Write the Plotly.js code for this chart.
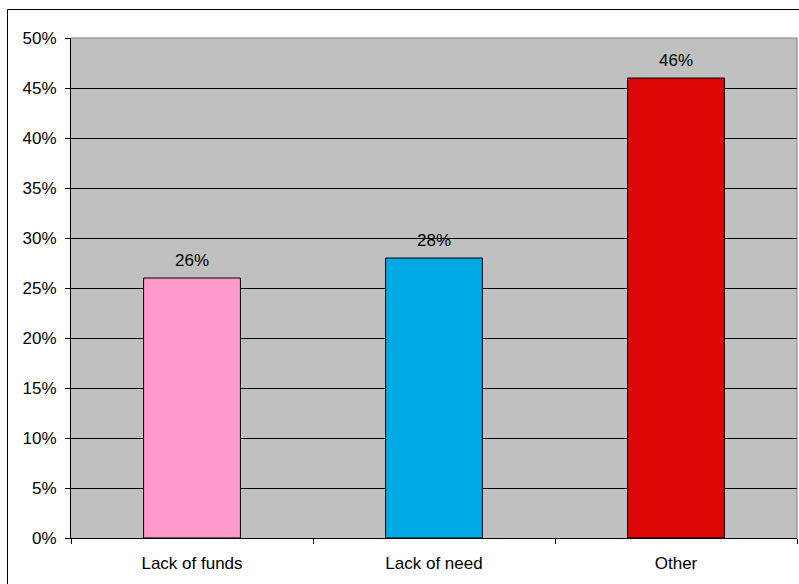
<!DOCTYPE html>
<html>
<head>
<meta charset="utf-8">
<script src="https://cdn.plot.ly/plotly-3.0.1.min.js"></script>
<style>
  html, body { margin: 0; padding: 0; background: #fff; }
  #chart { width: 799px; height: 584px; }
</style>
</head>
<body>
<div id="chart"></div>
<script>
// Reasons given, and their share of responses
const categories = ['Lack of funds', 'Lack of need', 'Other'];
const shares = [0.26, 0.28, 0.46];
const barColors = ['#ff99cc', '#00a8e6', '#dd0806'];

const W = 799, H = 584;
const M = { l: 71, r: 2, t: 38, b: 46 };
const plotW = W - M.l - M.r, plotH = H - M.t - M.b;
// convert page pixels into paper fractions for the outer frame
const px = x => (x - M.l) / plotW;
const py = y => 1 - (y - M.t) / plotH;

const FONT = 'Arial, "Liberation Sans", sans-serif';

const trace = {
  type: 'bar',
  x: categories,
  y: shares,
  width: 0.4,
  marker: { color: barColors, line: { color: '#000', width: 1 } },
  hoverinfo: 'skip'
};

// value labels sitting above each bar
const labels = categories.map((c, i) => ({
  x: c, y: shares[i], xref: 'x', yref: 'y',
  text: Math.round(shares[i] * 100) + '%',
  showarrow: false, yanchor: 'bottom', yshift: 6,
  font: { family: FONT, size: 17, color: '#000' }
}));

const layout = {
  width: W, height: H,
  margin: M,
  paper_bgcolor: '#fff',
  plot_bgcolor: '#c0c0c0',
  showlegend: false,
  font: { family: FONT, size: 17, color: '#000' },
  xaxis: {
    type: 'category',
    showline: true, linecolor: '#000', linewidth: 1,
    ticks: 'outside', tickson: 'boundaries', ticklen: 5, tickcolor: '#000',
    ticklabelstandoff: 10,
    showgrid: false, fixedrange: true
  },
  yaxis: {
    range: [0, 0.5], dtick: 0.05, tickformat: '.0%',
    showline: true, linecolor: '#000', linewidth: 1,
    ticks: 'outside', ticklen: 5, tickcolor: '#000',
    ticklabelstandoff: 5,
    showgrid: true, gridcolor: '#000', gridwidth: 1,
    zeroline: false, fixedrange: true
  },
  annotations: labels,
  shapes: [
    // gray edges on top and right of the plot area
    { type: 'line', xref: 'paper', yref: 'paper', x0: 0, x1: 1, y0: 1, y1: 1,
      line: { color: '#808080', width: 1 } },
    { type: 'line', xref: 'paper', yref: 'paper', x0: 1, x1: 1, y0: 0, y1: 1,
      line: { color: '#808080', width: 1 } },
    // outer chart frame
    { type: 'rect', xref: 'paper', yref: 'paper',
      x0: px(7.5), x1: px(820), y0: py(9.5), y1: py(600),
      line: { color: '#000', width: 1 }, layer: 'below' }
  ]
};

Plotly.newPlot('chart', [trace], layout, { displayModeBar: false, staticPlot: true });
</script>
</body>
</html>
